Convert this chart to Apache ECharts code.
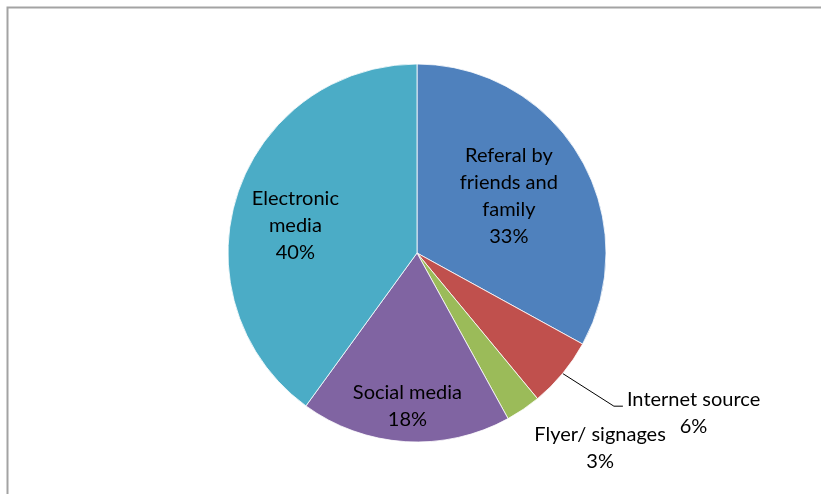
<!DOCTYPE html>
<html>
<head>
<meta charset="utf-8">
<script src="https://cdn.jsdelivr.net/npm/echarts@6/dist/echarts.min.js"></script>
<style>
  html, body { margin: 0; padding: 0; background: #fff; }
  #chart { width: 821px; height: 494px; }
</style>
</head>
<body>
<div id="chart"></div>
<script>
// Sources through which respondents heard about the service (share, %)
const categories = ['Referal by friends and family', 'Internet source', 'Flyer/ signages', 'Social media', 'Electronic media'];
const labelTexts = ['Referal by\nfriends and\nfamily', 'Internet source', 'Flyer/ signages', 'Social media', 'Electronic\nmedia'];
const shares = [33, 6, 3, 18, 40];
const colors = ['#4F81BD', '#C0504D', '#9BBB59', '#8064A2', '#4BACC6'];

// Pie geometry
const CX = 417, CY = 253, R = 189;

const total = shares.reduce((a, b) => a + b, 0);
const midAngles = [];
let acc = 0;
shares.forEach(v => { midAngles.push((acc + v / 2) / total * 2 * Math.PI); acc += v; });

function polar(k, a) {
  return [CX + k * R * Math.sin(a), CY - k * R * Math.cos(a)];
}

// Label anchor: fraction of the radius along the slice's mid-angle, plus a nudge.
// null = label hangs off the end of its leader line.
const labelPlace = [
  { k: 0.577, dx: -2, dy: -1 },
  null,
  { k: 1.3, dx: 45, dy: -8 },
  { k: 0.804, dx: 0, dy: 1 },
  { k: 0.66, dx: -3, dy: 11 }
];

const chart = echarts.init(document.getElementById('chart'), null, { renderer: 'canvas' });

chart.setOption({
  animation: false,
  backgroundColor: '#fff',
  graphic: [{
    type: 'rect',
    shape: { x: 7.5, y: 7.5, width: 840, height: 520 },
    style: { fill: 'none', stroke: '#a3a3a3', lineWidth: 2 },
    silent: true
  }],
  series: [{
    type: 'pie',
    center: [CX, CY],
    radius: R,
    startAngle: 90,
    clockwise: true,
    avoidLabelOverlap: false,
    emphasis: { disabled: true },
    itemStyle: { borderColor: 'rgba(255,255,255,0.8)', borderWidth: 1 },
    label: {
      formatter: p => labelTexts[p.dataIndex] + '\n' + p.value + '%',
      color: '#000',
      fontFamily: 'Lato',
      fontSize: 20,
      lineHeight: 27,
      align: 'center'
    },
    labelLine: {
      length: 60,
      length2: 9,
      smooth: false,
      lineStyle: { color: '#000', width: 1 }
    },
    data: categories.map((name, i) => ({
      name,
      value: shares[i],
      itemStyle: { color: colors[i] },
      label: { position: labelPlace[i] ? 'inside' : 'outside' },
      labelLine: { show: !labelPlace[i] }
    })),
    labelLayout: function (params) {
      const i = params.dataIndex;
      const place = labelPlace[i];
      const rect = params.labelRect;
      const a = midAngles[i];
      if (!place) {
        // leader: from the rim, out past the slice, then a short horizontal tail
        const start = polar(1, a);
        const knee = polar(1.32, a - 0.03);
        const end = [knee[0] + 9, knee[1]];
        return {
          x: end[0] + 4 + rect.width / 2,
          y: end[1] + 7,
          align: 'center',
          verticalAlign: 'middle',
          labelLinePoints: [start, knee, end]
        };
      }
      const p = polar(place.k, a);
      return {
        x: p[0] + place.dx,
        y: p[1] + place.dy,
        align: 'center',
        verticalAlign: 'middle'
      };
    }
  }]
});
</script>
</body>
</html>
